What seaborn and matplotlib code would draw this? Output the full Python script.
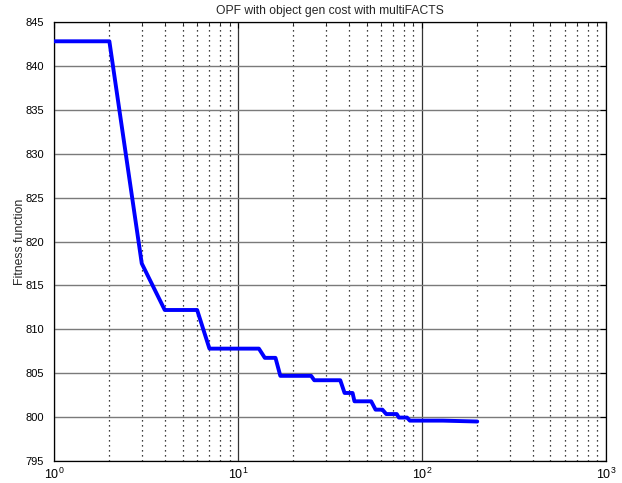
import matplotlib
matplotlib.use("Agg")
import matplotlib.pyplot as plt
import seaborn as sns
import pandas as pd
import numpy as np
from matplotlib.ticker import LogLocator

title = "OPF with object gen cost with multiFACTS"
ylabel = "Fitness function"

iterations = [1, 2, 3, 4, 6, 7, 13, 14, 16, 17, 25, 26, 36, 38, 42, 43,
              53, 56, 61, 64, 73, 75, 83, 86, 130, 200]
fitness = [842.8, 842.8, 817.5, 812.2, 812.2, 807.8, 807.8, 806.75, 806.75,
           804.7, 804.7, 804.2, 804.2, 802.75, 802.75, 801.8, 801.8, 800.85,
           800.85, 800.35, 800.35, 799.95, 799.95, 799.6, 799.6, 799.5]
yticks = [795, 800, 805, 810, 815, 820, 825, 830, 835, 840, 845]

sns.set_style("white")
plt.rcParams['font.family'] = ['Liberation Sans', 'DejaVu Sans']
plt.rcParams['mathtext.fontset'] = 'custom'
plt.rcParams['mathtext.rm'] = 'Liberation Sans'
plt.rcParams['mathtext.it'] = 'Liberation Sans'

df = pd.DataFrame({"iter": iterations, "fit": fitness})

fig = plt.figure(figsize=(6.22, 4.83), dpi=100)
ax = fig.add_axes([0.0868, 0.0455, 0.8872, 0.909])

sns.lineplot(data=df, x="iter", y="fit", ax=ax, color=(0, 0, 1),
             linewidth=2.8, sort=False, estimator=None, zorder=5)

ax.set_xscale("log")
ax.set_xlim(1, 1000)
ax.set_ylim(795, 845)
ax.set_yticks(yticks)
ax.xaxis.set_major_locator(LogLocator(base=10, numticks=10))
ax.xaxis.set_minor_locator(LogLocator(base=10, subs=np.arange(2, 10), numticks=20))

# grid
ax.grid(False)
ax.xaxis.grid(True, which="major", color="#333333", linestyle="-", linewidth=0.9)
ax.xaxis.grid(True, which="minor", color="black", linestyle=(0, (1, 3)), linewidth=0.9)
ax.yaxis.grid(True, which="major", color="#7a7a7a", linestyle="-", linewidth=1.0)

for s in ax.spines.values():
    s.set_color("black")
    s.set_linewidth(0.9)

ax.tick_params(axis="both", which="both", direction="in", top=True, right=True,
               labelsize=8, colors="black")
ax.tick_params(axis="both", which="major", length=4)
ax.tick_params(axis="x", which="minor", length=2.5)
ax.tick_params(axis="y", which="major", pad=7)
ax.tick_params(axis="x", which="major", labelsize=9, pad=4)

ax.set_xlabel("")
ax.set_ylabel(ylabel, fontsize=8.8)
ax.yaxis.set_label_coords(-0.05, 0.5)
ax.set_title(title, fontsize=8.7, pad=6)

fig.savefig("out.png", dpi=100)
